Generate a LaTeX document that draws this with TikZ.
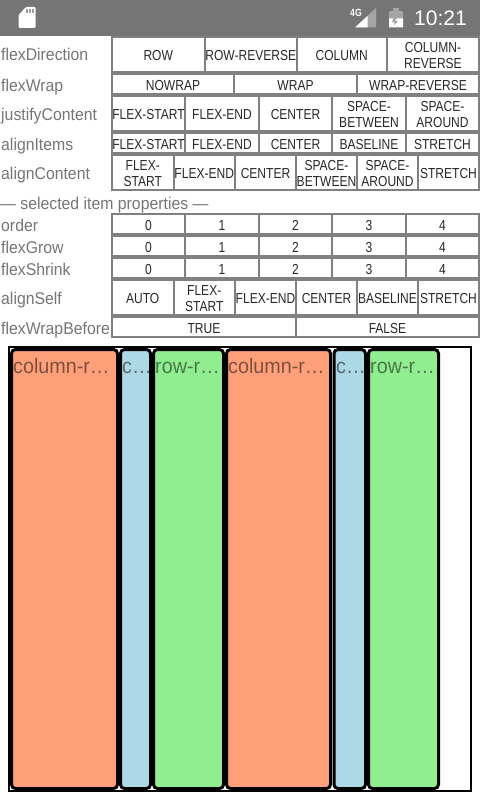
\documentclass[tikz,border=0pt]{standalone}
\usepackage{fontspec}
\setmainfont{Liberation Sans}
\newfontfamily\cellfont[FakeStretch=0.83]{Liberation Sans}
\newfontfamily\labelfont[FakeStretch=0.93]{Liberation Sans}
\newfontfamily\itemfont[FakeStretch=0.94]{Liberation Sans}
\usepackage{xcolor}
\usetikzlibrary{positioning}
\definecolor{statusgray}{RGB}{117,117,117}
\definecolor{gridgray}{RGB}{128,128,128}
\definecolor{labelgray}{RGB}{117,117,117}
\definecolor{celltext}{RGB}{40,40,40}
\definecolor{itemorange}{RGB}{255,160,122}
\definecolor{itemblue}{RGB}{173,216,230}
\definecolor{itemgreen}{RGB}{144,238,144}
\tikzset{
  cell/.style={inner sep=0pt, align=center, text=celltext, font=\cellfont\fontsize{14.5}{16}\selectfont,
    execute at begin node={\rule{0pt}{10.5pt}}, execute at end node={\rule[-0.5pt]{0pt}{0.5pt}}},
  proplabel/.style={anchor=base west, inner sep=0pt, text=labelgray, font=\labelfont\fontsize{17}{18}\selectfont},
  itembox/.style={draw=black, line width=3pt, rounded corners=4pt},
  itemlabel/.style={anchor=base west, inner sep=0pt, text=black, text opacity=0.5, font=\itemfont\fontsize{21}{22}\selectfont}
}
\newcommand{\cellrow}[4]{% name, top, bottom, cells
  \foreach \xa/\xb/\lbl [count=\n] in {#4}{
    \fill[white] (\xa,#2) rectangle (\xb,#3);
    \node[cell] (#1\n) at ({(\xa+\xb)/2},{(#2+#3)/2+1}) {\lbl};
  }
}
\begin{document}
\begin{tikzpicture}[x=1pt,y=-1pt]
  \useasboundingbox (0,0) rectangle (480,800);
  % status bar
  \fill[statusgray] (0,0) rectangle (480,36);
  \fill[white, rounded corners=1pt] (18.5,15) -- (18.5,28) -- (35.5,28) -- (35.5,7) -- (26,7) -- cycle;
  \fill[statusgray!70] (26,9.5) rectangle (27.5,13);
  \fill[statusgray!70] (29,9.5) rectangle (30.5,13);
  \fill[statusgray!70] (32,9.5) rectangle (33.5,13);
  \node[anchor=base west, inner sep=0pt, text=white, font=\cellfont\fontsize{10.5}{10}\bfseries\selectfont] (net) at (350,17) {4G};
  \fill[white, opacity=0.35] (376,27.5) -- (376,8) -- (355,27.5) -- cycle;
  \fill[white] (367.5,27.5) -- (367.5,16) -- (355,27.5) -- cycle;
  \fill[white, opacity=0.35] (389,11) rectangle (403,27.5);
  \fill[white, opacity=0.35] (393,8) rectangle (399,11);
  \fill[white] (389,18.5) -- (393,18.5) -- (392,22.5) -- (394.5,22.5) -- (394,26) -- (398,21) -- (395.5,21) -- (396.5,18.5) -- (403,18.5) -- (403,27.5) -- (389,27.5) -- cycle;
  \node[anchor=base west, inner sep=0pt, text=white, font=\fontsize{21}{21}\selectfont] (clock) at (414,26) {10:21};

  % container options
  \fill[gridgray] (111,36) rectangle (480,191);
  \cellrow{dir}{38}{71}{113/203.5/ROW, 205.5/296/ROW-REVERSE, 297.5/386/COLUMN, 388/478/COLUMN-\\REVERSE}
  \cellrow{wrap}{75}{93}{113/233/NOWRAP, 235/356/WRAP, 358/478/WRAP-REVERSE}
  \cellrow{justify}{97}{130}{113/184/FLEX-START, 186/258/FLEX-END, 260/331/CENTER, 333/405/SPACE-\\BETWEEN, 407/478/SPACE-\\AROUND}
  \cellrow{items}{134}{152}{113/184/FLEX-START, 186/258/FLEX-END, 260/331/CENTER, 333/405/BASELINE, 407/478/STRETCH}
  \cellrow{content}{156}{189}{113/172.5/FLEX-\\START, 174.5/234/FLEX-END, 236/295/CENTER, 297/356/SPACE-\\BETWEEN, 358/417/SPACE-\\AROUND, 419/478/STRETCH}

  \node[proplabel] (dirlabel) at (1,61) {flexDirection};
  \node[proplabel] (wraplabel) at (1,91) {flexWrap};
  \node[proplabel] (justifylabel) at (1,120) {justifyContent};
  \node[proplabel] (itemslabel) at (1,150) {alignItems};
  \node[proplabel] (contentlabel) at (1,179) {alignContent};
  \node[proplabel] (selected) at (0,209) {— selected item properties —};

  % item options
  \fill[gridgray] (111,213) rectangle (480,338);
  \cellrow{order}{215}{233}{113/184/0, 186/258/1, 260/331/2, 333/405/3, 407/478/4}
  \cellrow{grow}{237}{255}{113/184/0, 186/258/1, 260/331/2, 333/405/3, 407/478/4}
  \cellrow{shrink}{259}{277}{113/184/0, 186/258/1, 260/331/2, 333/405/3, 407/478/4}
  \cellrow{self}{281}{314}{113/172.5/AUTO, 174.5/234/FLEX-\\START, 236/295/FLEX-END, 297/356/CENTER, 358/417/BASELINE, 419/478/STRETCH}
  \cellrow{before}{318}{336}{113/295/TRUE, 297/478/FALSE}

  \node[proplabel] (orderlabel) at (1,231) {order};
  \node[proplabel] (growlabel) at (1,253) {flexGrow};
  \node[proplabel] (shrinklabel) at (1,275) {flexShrink};
  \node[proplabel] (selflabel) at (1,304) {alignSelf};
  \node[proplabel] (beforelabel) at (1,334) {flexWrapBefore};

  % flex container
  \draw[line width=2pt, black] (9,347) rectangle (471,791);

  % flex items
  \filldraw[itembox, fill=itemorange] (11.5,349.5) rectangle (117.5,788.5);
  \filldraw[itembox, fill=itemblue] (120.5,349.5) rectangle (150.5,788.5);
  \filldraw[itembox, fill=itemgreen] (153.5,349.5) rectangle (223.5,788.5);
  \filldraw[itembox, fill=itemorange] (226.5,349.5) rectangle (330.5,788.5);
  \filldraw[itembox, fill=itemblue] (334,349.5) rectangle (365.5,788.5);
  \filldraw[itembox, fill=itemgreen] (368.5,349.5) rectangle (438.5,788.5);

  \node[itemlabel] (item1) at (13,373) {column-r…};
  \node[itemlabel] (item2) at (122,373) {c…};
  \node[itemlabel] (item3) at (155,373) {row-r…};
  \node[itemlabel] (item4) at (228,373) {column-r…};
  \node[itemlabel] (item5) at (336,373) {c…};
  \node[itemlabel] (item6) at (370,373) {row-r…};
\end{tikzpicture}
\end{document}
